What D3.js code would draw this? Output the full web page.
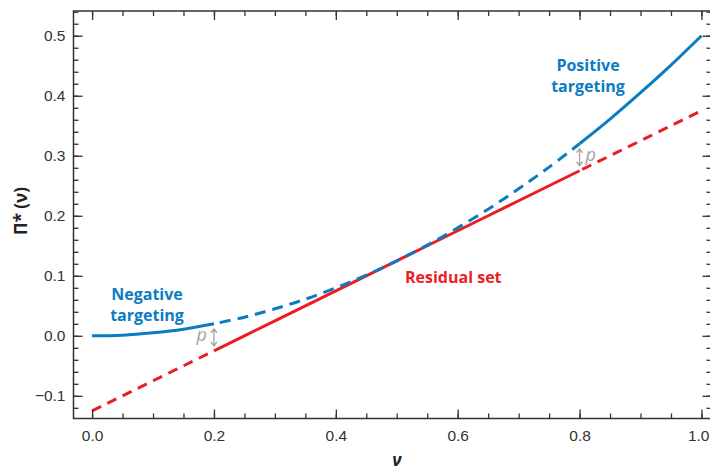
<!DOCTYPE html>
<html>
<head>
<meta charset="utf-8">
<script src="https://cdn.jsdelivr.net/npm/d3@7"></script>
<style>
  html, body { margin: 0; padding: 0; background: #fff; }
  svg { display: block; font-family: "Open Sans", "Noto Sans", sans-serif; }
</style>
</head>
<body>
<svg id="chart" width="710" height="473"></svg>
<script>
// ---- data ----
const nu = [0.00, 0.05, 0.10, 0.15, 0.20, 0.25, 0.30, 0.35, 0.40, 0.45, 0.50,
            0.55, 0.60, 0.65, 0.70, 0.75, 0.80, 0.85, 0.90, 0.95, 1.00];
const piStar = [0.000, 0.001, 0.005, 0.011, 0.020, 0.031, 0.045, 0.061, 0.080, 0.101, 0.125,
                0.151, 0.180, 0.211, 0.245, 0.281, 0.320, 0.361, 0.405, 0.451, 0.500];
const residual = [-0.125, -0.100, -0.075, -0.050, -0.025, 0.000, 0.025, 0.050, 0.075, 0.100, 0.125,
                  0.150, 0.175, 0.200, 0.225, 0.250, 0.275, 0.300, 0.325, 0.350, 0.375];
const regionBounds = [0.2, 0.8];
const xTicks = [0.0, 0.2, 0.4, 0.6, 0.8, 1.0];
const yTicks = [-0.1, 0.0, 0.1, 0.2, 0.3, 0.4, 0.5];
const xMinor = d3.range(0, 1.0001, 0.05);
const yMinor = d3.range(-0.12, 0.5401, 0.02);

const BLUE = "#0b7cc2", RED = "#ec1c24", GRAY = "#a3a3a3", AXIS = "#333333";

const svg = d3.select("#chart");
const x = d3.scaleLinear().domain([-0.0305, 1.0165]).range([73.5, 711.5]);
const y = d3.scaleLinear().domain([-0.1378, 0.5412]).range([418.5, 11]);

const pts = nu.map((v, i) => ({ v, b: piStar[i], r: residual[i] }));
const seg = (a, b) => pts.filter(d => d.v >= a - 1e-9 && d.v <= b + 1e-9);

const blueLine = d3.line().x(d => x(d.v)).y(d => y(d.b)).curve(d3.curveCatmullRom);
const redLine = d3.line().x(d => x(d.v)).y(d => y(d.r));

// ---- residual (red) ----
const gR = svg.append("g").attr("fill", "none").attr("stroke", RED).attr("stroke-width", 3);
gR.append("path").attr("d", redLine(seg(0, regionBounds[0]))).attr("stroke-dasharray", "10,7");
gR.append("path").attr("d", redLine(seg(regionBounds[0], regionBounds[1])));
gR.append("path").attr("d", redLine(seg(regionBounds[1], 1))).attr("stroke-dasharray", "10,7")
  .attr("stroke-dashoffset", -3);

// ---- optimal (blue) ----
const gB = svg.append("g").attr("fill", "none").attr("stroke", BLUE).attr("stroke-width", 3);
gB.append("path").attr("d", blueLine(seg(0, regionBounds[0])));
gB.append("path").attr("d", blueLine(seg(regionBounds[0], regionBounds[1])))
  .attr("stroke-dasharray", "11,7").attr("stroke-dashoffset", -6);
gB.append("path").attr("d", blueLine(seg(regionBounds[1], 1)));

// ---- p arrows ----
function pArrow(v, labelSide) {
  const i = nu.findIndex(n => Math.abs(n - v) < 1e-9);
  const xa = x(v), y1 = y(piStar[i]) + 5, y2 = y(residual[i]) - 5;
  const h = 4, w = 3;
  svg.append("path")
    .attr("d", `M${xa},${y1}L${xa},${y2}M${xa - w},${y1 + h}L${xa},${y1}L${xa + w},${y1 + h}` +
               `M${xa - w},${y2 - h}L${xa},${y2}L${xa + w},${y2 - h}`)
    .attr("fill", "none").attr("stroke", GRAY).attr("stroke-width", 1.3);
  svg.append("text")
    .attr("x", labelSide < 0 ? xa - 7 : xa + 6)
    .attr("y", (y1 + y2) / 2 + 4)
    .attr("text-anchor", labelSide < 0 ? "end" : "start")
    .attr("font-size", 18).attr("font-style", "italic").attr("fill", GRAY)
    .text("p");
}
pArrow(regionBounds[0], -1);
pArrow(regionBounds[1], 1);

// ---- axes ----
const fmt = d3.format(".1f");
function styleAxis(g) {
  g.select(".domain").remove();
  g.selectAll("line").attr("stroke", AXIS).attr("stroke-width", 1.3);
  g.selectAll("text").attr("fill", AXIS).attr("font-size", 15.5);
}
const H = 418.5, L = 73.5, R = 711.5, T = 11;
svg.append("g").attr("transform", `translate(0,${H})`)
  .call(d3.axisBottom(x).tickValues(xMinor).tickSize(-5).tickFormat("")).call(styleAxis);
const xAx = svg.append("g").attr("transform", `translate(0,${H})`)
  .call(d3.axisBottom(x).tickValues(xTicks).tickSize(-9).tickPadding(11).tickFormat(fmt)).call(styleAxis);
// keep the last label inside the page edge
xAx.selectAll(".tick text").filter(d => d === 1.0).attr("text-anchor", "end").attr("x", 709 - x(1.0));
svg.append("g").attr("transform", `translate(0,${T})`)
  .call(d3.axisTop(x).tickValues(xMinor).tickSize(-5).tickFormat("")).call(styleAxis);
svg.append("g").attr("transform", `translate(0,${T})`)
  .call(d3.axisTop(x).tickValues(xTicks).tickSize(-9).tickFormat("")).call(styleAxis);
svg.append("g").attr("transform", `translate(${L},0)`)
  .call(d3.axisLeft(y).tickValues(yMinor).tickSize(-5).tickFormat("")).call(styleAxis);
svg.append("g").attr("transform", `translate(${L},0)`)
  .call(d3.axisLeft(y).tickValues(yTicks).tickSize(-9).tickPadding(8).tickFormat(fmt)).call(styleAxis);
svg.append("g").attr("transform", `translate(${R},0)`)
  .call(d3.axisRight(y).tickValues(yMinor).tickSize(-5).tickFormat("")).call(styleAxis);
svg.append("g").attr("transform", `translate(${R},0)`)
  .call(d3.axisRight(y).tickValues(yTicks).tickSize(-9).tickFormat("")).call(styleAxis);

svg.append("rect").attr("x", L).attr("y", T).attr("width", R - L).attr("height", H - T)
  .attr("fill", "none").attr("stroke", AXIS).attr("stroke-width", 1.5);

// ---- axis titles ----
svg.append("text").attr("transform", "translate(27,211) rotate(-90)")
  .attr("text-anchor", "middle").attr("font-size", 17).attr("font-weight", "bold").attr("fill", "#222")
  .text("Π* (ν)");
svg.append("text").attr("x", 397).attr("y", 466)
  .attr("text-anchor", "middle").attr("font-size", 17).attr("font-weight", "bold")
  .attr("font-style", "italic").attr("fill", "#222").text("ν");

// ---- annotations ----
function label(lines, cx, by, color, anchor) {
  const t = svg.append("text").attr("x", cx).attr("y", by).attr("text-anchor", anchor || "middle")
    .attr("font-size", 16).attr("font-weight", "bold").attr("fill", color);
  lines.forEach((s, i) => t.append("tspan").attr("x", cx).attr("dy", i ? 21 : 0).text(s));
}
label(["Negative", "targeting"], 147, 300, BLUE);
label(["Positive", "targeting"], 588, 71, BLUE);
label(["Residual set"], 405, 283, RED, "start");
</script>
</body>
</html>
